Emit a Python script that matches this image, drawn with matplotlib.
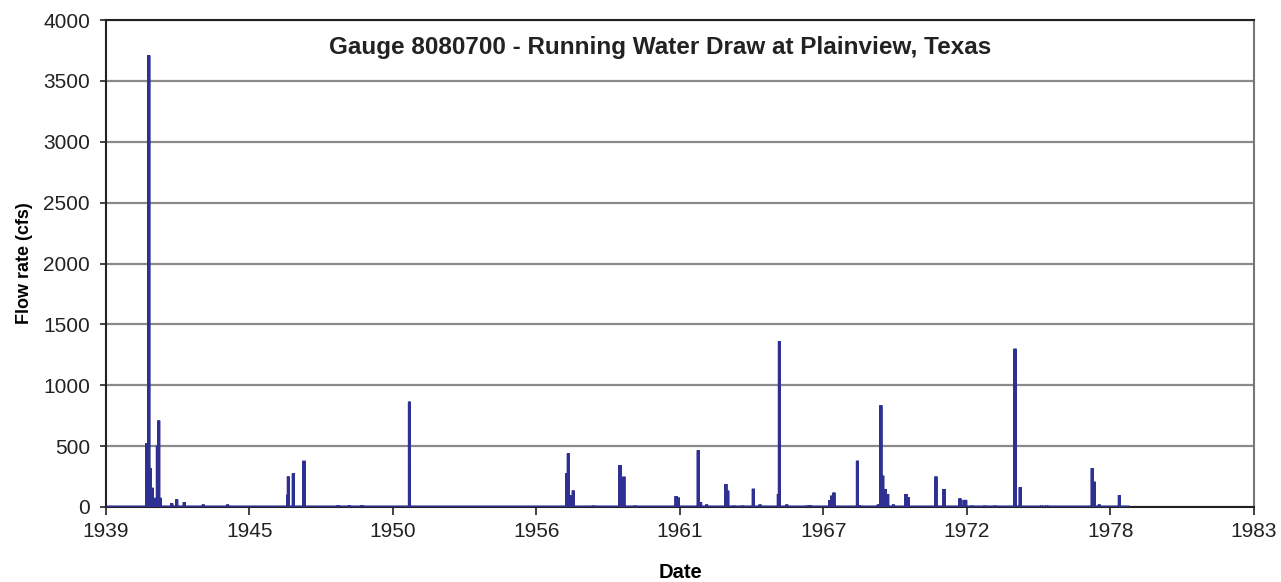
import numpy as np
import matplotlib
matplotlib.use("Agg")
import matplotlib.pyplot as plt

plt.rcParams["font.family"] = ["Liberation Sans", "DejaVu Sans"]

# Flood peaks (decimal year, peak flow in cfs); days between peaks are ~0 cfs
peak_years = [1941.31, 1941.39, 1941.44, 1941.52, 1941.63, 1941.72, 1941.77, 1941.82,
              1942.27, 1942.46, 1942.75, 1943.48, 1944.41,
              1946.72, 1946.74, 1946.93, 1947.34,
              1948.65, 1949.08, 1949.55, 1951.38,
              1957.41, 1957.47, 1957.53, 1957.66, 1958.43,
              1959.45, 1959.60, 1960.03, 1961.60, 1961.69,
              1962.45, 1962.54, 1962.77, 1963.51, 1963.58, 1963.82,
              1964.15, 1964.56, 1964.82, 1965.52, 1965.56, 1965.84,
              1966.61, 1966.73, 1967.50, 1967.56, 1967.65,
              1968.55, 1968.62, 1969.35, 1969.45, 1969.52, 1969.61, 1969.71, 1969.93,
              1970.41, 1970.50, 1971.56, 1971.87,
              1972.48, 1972.64, 1972.70, 1972.93, 1973.44, 1973.82,
              1974.59, 1974.79, 1975.61, 1975.81,
              1977.55, 1977.62, 1977.82, 1978.59]
peak_flows = [525, 3710, 320, 158, 75, 503, 710, 75,
              30, 62, 40, 20, 20,
              100, 250, 276, 380,
              12, 12, 15, 865,
              276, 440, 98, 135, 10,
              345, 249, 10, 90, 77,
              465, 40, 20, 189, 134, 10,
              10, 150, 20, 107, 1360, 20,
              10, 15, 57, 93, 118,
              380, 15, 20, 835, 257, 148, 107, 20,
              107, 80, 250, 148,
              70, 58, 58, 10, 10, 10,
              1300, 162, 10, 10,
              318, 208, 20, 98]
record_start = 1939.75
record_end = 1978.93

tick_years = [1939, 1945, 1950, 1956, 1961, 1967, 1972, 1978, 1983]

# daily series: zero the day before and after each peak
day = 1 / 365.25
t = [record_start]
q = [0]
for yr, v in zip(peak_years, peak_flows):
    t += [yr - day, yr, yr + day]
    q += [0, v, 0]
t.append(record_end)
q.append(0)

fig = plt.figure(figsize=(12.81, 5.82), dpi=100)
ax = fig.add_axes([106 / 1281, 1 - 507 / 582, (1254 - 106) / 1281, (507 - 20) / 582])

ax.plot(t, q, color="#2E3192", linewidth=2.2, solid_joinstyle="miter", zorder=3)

ax.set_xlim(record_start, record_start + 44)
ax.set_ylim(0, 4000)
ax.set_xticks([record_start + 5.5 * i for i in range(len(tick_years))])
ax.set_xticklabels([str(y) for y in tick_years])
ax.set_yticks(np.arange(0, 4001, 500))

ax.yaxis.grid(True, color="#8a8a8a", linewidth=1.6)
ax.set_axisbelow(True)
for side in ["left", "top", "bottom"]:
    ax.spines[side].set_color("#222222")
    ax.spines[side].set_linewidth(1.5)
ax.spines["right"].set_color("#777777")
ax.spines["right"].set_linewidth(1.5)

ax.tick_params(axis="both", direction="out", length=4.5, width=1.2, labelsize=15,
               colors="#222222", pad=7)
ax.tick_params(axis="x", length=6, pad=5)

ax.set_xlabel("Date", fontsize=14.5, fontweight="bold", labelpad=16)
ax.set_ylabel("Flow rate (cfs)", fontsize=13, fontweight="bold", labelpad=7)

ax.text(0.483, 0.944, "Gauge 8080700 - Running Water Draw at Plainview, Texas",
        transform=ax.transAxes, ha="center", va="center",
        fontsize=17.5, fontweight="bold", color="#222222")

fig.savefig("out.png", dpi=100)
